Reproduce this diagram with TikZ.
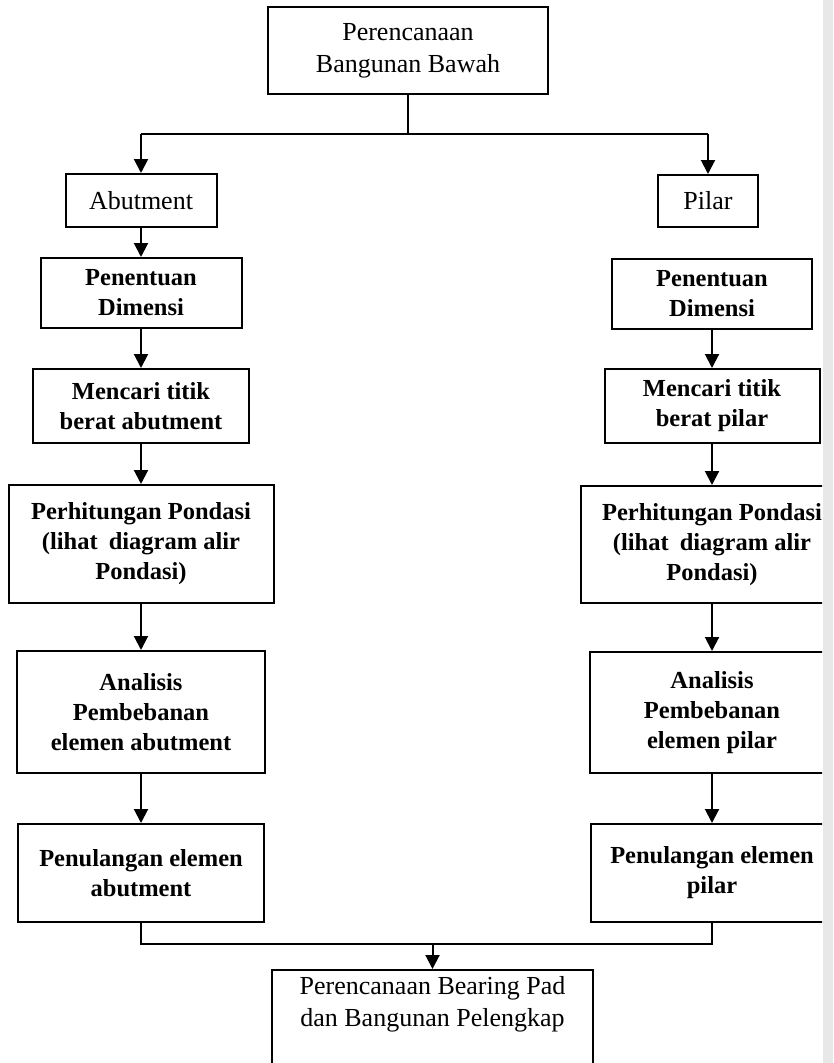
\documentclass[tikz,border=0pt]{standalone}
\usepackage{fontspec}
\setmainfont{Liberation Serif}
\usetikzlibrary{arrows.meta}
\tikzset{
  box/.style={draw, line width=2pt, rectangle, inner sep=0pt, align=center},
  reg/.style={font=\fontsize{26}{32}\selectfont},
  bld/.style={font=\fontsize{24.5}{30}\selectfont\bfseries},
  arr/.style={line width=2pt, -{Triangle[length=14pt,width=14pt]}},
  ln/.style={line width=2pt}
}
\begin{document}
\begin{tikzpicture}[x=1pt,y=-1pt]
\useasboundingbox (0,0) rectangle (833,1063);
\fill[white] (0,0) rectangle (833,1063);
\fill[gray!18] (823,0) rectangle (833,1063);
\begin{scope}
\clip (0,0) rectangle (822,1063);
% top
\node[box,reg,minimum width=280,minimum height=87] (top) at (408,50.5) {Perencanaan\\Bangunan Bawah};
% left column
\node[box,reg,minimum width=151,minimum height=53] (abut) at (141,200.5) {Abutment};
\node[box,bld,minimum width=201,minimum height=70] (lpen) at (141,293) {Penentuan\\Dimensi};
\node[box,bld,minimum width=216,minimum height=74] (lmen) at (141,406) {Mencari titik\\berat abutment};
\node[box,bld,minimum width=265,minimum height=118] (lper) at (141,544) {Perhitungan Pondasi\\(lihat\hspace{0.45em}diagram alir\\Pondasi)};
\node[box,bld,minimum width=248,minimum height=122] (lana) at (141,712) {Analisis\\Pembebanan\\elemen abutment};
\node[box,bld,minimum width=246,minimum height=98] (lpul) at (141,873) {Penulangan elemen\\abutment};
% right column
\node[box,reg,minimum width=100,minimum height=52] (pilar) at (708,201) {Pilar};
\node[box,bld,minimum width=200,minimum height=70] (rpen) at (712,294) {Penentuan\\Dimensi};
\node[box,bld,minimum width=215,minimum height=74] (rmen) at (712,406) {Mencari titik\\berat pilar};
\node[box,bld,minimum width=262,minimum height=117] (rper) at (712,544.5) {Perhitungan Pondasi\\(lihat\hspace{0.45em}diagram alir\\Pondasi)};
\node[box,bld,minimum width=244,minimum height=121] (rana) at (712,712.5) {Analisis\\Pembebanan\\elemen pilar};
\node[box,bld,minimum width=242,minimum height=98] (rpul) at (712,873) {Penulangan elemen\\pilar};
% bottom
\node[box,minimum width=321,minimum height=130,anchor=north] (bot) at (432.5,969) {};
\node[reg,align=center,inner sep=0pt] (bottxt) at (432.5,1004) {Perencanaan Bearing Pad\\dan Bangunan Pelengkap};
% connectors
\coordinate (hl) at (141,134);
\coordinate (hr) at (708,134);
\draw[ln] (top.south) -- (top.south |- hl);
\draw[ln] (hl) -- (hr);
\draw[arr] (hl) -- (abut.north);
\draw[arr] (hr) -- (pilar.north);
\draw[arr] (abut) -- (lpen);
\draw[arr] (lpen) -- (lmen);
\draw[arr] (lmen) -- (lper);
\draw[arr] (lper) -- (lana);
\draw[arr] (lana) -- (lpul);
\draw[arr] (rpen) -- (rmen);
\draw[arr] (rmen) -- (rper);
\draw[arr] (rper) -- (rana);
\draw[arr] (rana) -- (rpul);
\coordinate (jl) at (141,944);
\coordinate (jr) at (712,944);
\draw[ln] (lpul.south) -- (jl) -- (jr) -- (rpul.south);
\draw[arr] (bot.north |- jl) -- (bot.north);
\end{scope}
\end{tikzpicture}
\end{document}
